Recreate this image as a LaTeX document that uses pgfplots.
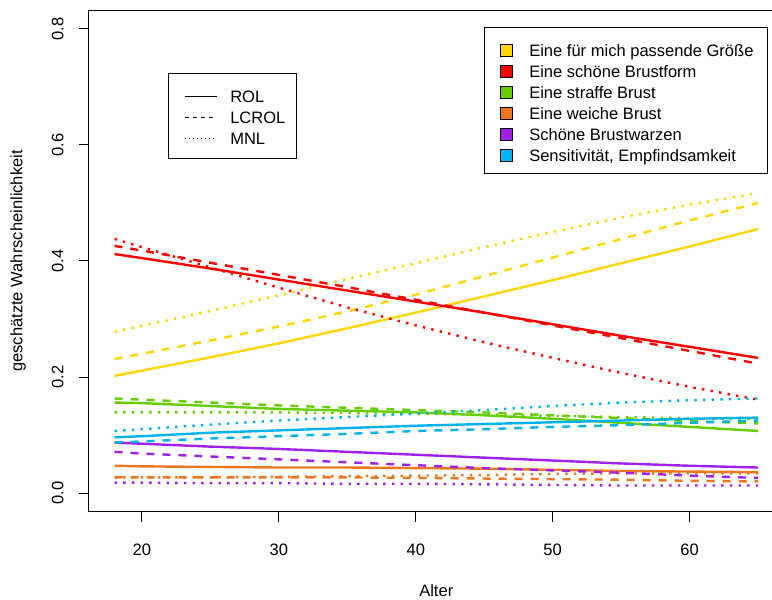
\documentclass[border=0pt]{standalone}
\usepackage{fontspec}
\setmainfont{Liberation Sans}
\usepackage{pgfplots}
\usepackage{pgfplotstable}
\pgfplotsset{compat=1.18}

\definecolor{cYellow}{HTML}{FFD700}
\definecolor{cRed}{HTML}{FF0000}
\definecolor{cGreen}{HTML}{66CD00}
\definecolor{cOrange}{HTML}{EE7621}
\definecolor{cPurple}{HTML}{A020F0}
\definecolor{cBlue}{HTML}{00B2EE}

% predicted probabilities by age: ROL, LCROL, MNL
\pgfplotstableread{
age rol lcrol mnl
18 0.202 0.231 0.278
20 0.211 0.240 0.288
25 0.234 0.263 0.314
30 0.258 0.287 0.341
35 0.284 0.313 0.369
40 0.311 0.342 0.396
45 0.339 0.374 0.424
50 0.367 0.406 0.450
55 0.396 0.438 0.475
60 0.425 0.470 0.497
65 0.455 0.500 0.517
}\groesse
\pgfplotstableread{
age rol lcrol mnl
18 0.412 0.426 0.438
20 0.405 0.418 0.424
25 0.387 0.397 0.389
30 0.368 0.376 0.354
35 0.349 0.355 0.320
40 0.330 0.333 0.289
45 0.311 0.311 0.260
50 0.291 0.289 0.233
55 0.271 0.267 0.207
60 0.252 0.245 0.183
65 0.233 0.223 0.161
}\brustform
\pgfplotstableread{
age rol lcrol mnl
18 0.156 0.163 0.139
20 0.155 0.161 0.139
25 0.150 0.156 0.139
30 0.145 0.151 0.139
35 0.142 0.147 0.138
40 0.139 0.143 0.137
45 0.134 0.139 0.135
50 0.128 0.134 0.133
55 0.121 0.129 0.131
60 0.114 0.124 0.129
65 0.107 0.120 0.127
}\straff
\pgfplotstableread{
age rol lcrol mnl
18 0.047 0.027 0.027
20 0.046 0.027 0.027
25 0.045 0.027 0.027
30 0.044 0.027 0.028
35 0.044 0.027 0.029
40 0.043 0.026 0.030
45 0.042 0.025 0.031
50 0.040 0.024 0.033
55 0.038 0.023 0.034
60 0.037 0.021 0.034
65 0.036 0.020 0.034
}\weich
\pgfplotstableread{
age rol lcrol mnl
18 0.087 0.071 0.018
20 0.085 0.068 0.018
25 0.080 0.063 0.017
30 0.076 0.058 0.017
35 0.071 0.053 0.016
40 0.066 0.048 0.016
45 0.061 0.043 0.015
50 0.056 0.039 0.014
55 0.051 0.035 0.013
60 0.047 0.030 0.013
65 0.044 0.026 0.013
}\warzen
\pgfplotstableread{
age rol lcrol mnl
18 0.096 0.087 0.107
20 0.098 0.089 0.110
25 0.104 0.094 0.118
30 0.108 0.098 0.125
35 0.112 0.102 0.131
40 0.116 0.107 0.137
45 0.119 0.110 0.143
50 0.122 0.114 0.150
55 0.125 0.117 0.156
60 0.128 0.121 0.160
65 0.130 0.125 0.163
}\sensitiv

\newcommand{\fs}{\fontsize{12.4}{15}\selectfont}

\tikzset{
  rol/.style={line width=1.8pt, solid},
  lcrol/.style={line width=1.8pt, dash pattern=on 6pt off 6pt},
  mnl/.style={line width=1.8pt, dash pattern=on 1.8pt off 4.7pt},
}

\begin{document}
\begin{tikzpicture}
\begin{axis}[
  scale only axis,
  width=521.25pt, height=375.9pt,
  xmin=16.12, xmax=66.88,
  ymin=-0.032, ymax=0.832,
  axis line style={line width=0.75pt, black},
  xtick={20,30,40,50,60},
  ytick={0,0.2,0.4,0.6,0.8},
  tick align=outside,
  xtick pos=bottom, ytick pos=left,
  major tick length=7.5pt,
  tick style={line width=0.75pt, black},
  tick label style={font=\fs, inner sep=0pt},
  /pgf/number format/assume math mode=true,
  xticklabel shift=16.8pt,
  xticklabel style={anchor=north},
  yticklabel shift=11.2pt,
  yticklabel style={rotate=90, anchor=south,
    /pgf/number format/.cd, fixed, fixed zerofill, precision=1},
  xlabel={Alter},
  ylabel={geschätzte Wahrscheinlichkeit},
  label style={font=\fs},
  xlabel style={at={(axis description cs:0.5,-0.158)}, anchor=center},
  ylabel style={at={(axis description cs:-0.1019,0.5)}, anchor=center},
  every axis plot/.append style={no markers, line cap=butt, line join=round},
  clip=true,
]
% Eine für mich passende Größe
\addplot[cYellow, rol]   table[x=age, y=rol]   {\groesse};
\addplot[cYellow, lcrol] table[x=age, y=lcrol] {\groesse};
\addplot[cYellow, mnl]   table[x=age, y=mnl]   {\groesse};
% Eine schöne Brustform
\addplot[cRed, rol]   table[x=age, y=rol]   {\brustform};
\addplot[cRed, lcrol] table[x=age, y=lcrol] {\brustform};
\addplot[cRed, mnl]   table[x=age, y=mnl]   {\brustform};
% Eine straffe Brust
\addplot[cGreen, rol]   table[x=age, y=rol]   {\straff};
\addplot[cGreen, lcrol] table[x=age, y=lcrol] {\straff};
\addplot[cGreen, mnl]   table[x=age, y=mnl]   {\straff};
% Eine weiche Brust
\addplot[cOrange, rol]   table[x=age, y=rol]   {\weich};
\addplot[cOrange, lcrol] table[x=age, y=lcrol] {\weich};
\addplot[cOrange, mnl]   table[x=age, y=mnl]   {\weich};
% Schöne Brustwarzen
\addplot[cPurple, rol]   table[x=age, y=rol]   {\warzen};
\addplot[cPurple, lcrol] table[x=age, y=lcrol] {\warzen};
\addplot[cPurple, mnl]   table[x=age, y=mnl]   {\warzen};
% Sensitivität, Empfindsamkeit
\addplot[cBlue, rol]   table[x=age, y=rol]   {\sensitiv};
\addplot[cBlue, lcrol] table[x=age, y=lcrol] {\sensitiv};
\addplot[cBlue, mnl]   table[x=age, y=mnl]   {\sensitiv};
\end{axis}

% legends, laid out in pixel units measured from the top-left corner
\begin{scope}[x=0.75pt, y=-0.75pt, shift={(-66.6pt,383.7pt)}]
  % model legend
  \draw[line width=0.75pt, fill=white] (168.3,74) rectangle (296.7,159);
  \draw[line width=0.75pt] (185,97) -- (217,97);
  \draw[line width=0.75pt, dash pattern=on 3pt off 3pt] (185,118) -- (217,118);
  \draw[line width=0.75pt, dash pattern=on 0.75pt off 2.25pt] (185,139) -- (217,139);
  \node[anchor=base west, inner sep=0pt, font=\fs] at (230,102.9) {ROL};
  \node[anchor=base west, inner sep=0pt, font=\fs] at (230,123.9) {LCROL};
  \node[anchor=base west, inner sep=0pt, font=\fs] at (230,144.9) {MNL};
  % category legend
  \draw[line width=0.75pt, fill=white] (484,28) rectangle (767,174);
  \foreach \c/\t [count=\i from 0] in {
      cYellow/{Eine für mich passende Größe},
      cRed/{Eine schöne Brustform},
      cGreen/{Eine straffe Brust},
      cOrange/{Eine weiche Brust},
      cPurple/{Schöne Brustwarzen},
      cBlue/{Sensitivität, Empfindsamkeit}} {
    \pgfmathsetmacro{\ry}{50.5+21*\i}
    \draw[line width=0.75pt, fill=\c] (500,\ry-6) rectangle (512.5,\ry+6);
    \node[anchor=base west, inner sep=0pt, font=\fs] at (529,\ry+5.9) {\t};
  }
\end{scope}

\pgfresetboundingbox
\path[use as bounding box] (-66.6pt,-66.3pt) rectangle (512.4pt,383.7pt);
\end{tikzpicture}
\end{document}
